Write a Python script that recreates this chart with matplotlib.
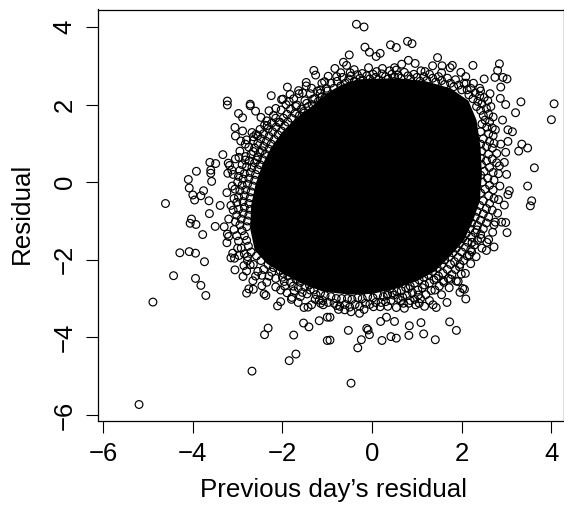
import matplotlib
matplotlib.use("Agg")
import matplotlib.pyplot as plt

plt.rcParams['font.family'] = ['Liberation Sans', 'DejaVu Sans']

# Individually readable outer points: (previous day's residual, residual)
upper_left = [(-4.61,-0.55),(-4.10,0.07),(-3.92,0.28),(-4.08,-0.15),(-4.00,-0.33),(-3.82,-0.35),(-3.96,-0.46),(-3.76,-0.22),(-3.64,-0.48),(-3.58,0.02),(-3.62,0.51),(-3.49,0.48),(-3.60,0.31),(-3.60,0.23),(-3.33,0.71),(-3.21,0.49),(-3.18,0.43),(-3.22,0.23),(-3.13,0.31),(-3.24,-0.27),(-3.39,-0.60),(-2.97,0.64),(-3.06,1.41),(-2.89,1.32),(-3.05,1.19),(-2.93,1.06),(-2.98,1.77),(-2.89,1.66),(-3.23,2.09),(-3.23,1.99),(-2.72,2.01),(-2.72,1.97),(-2.60,1.83),(-2.48,1.67),(-2.30,1.84),(-2.25,2.23),(-2.40,1.47),(-2.34,1.46),(-2.50,1.36),(-2.08,1.54),(-1.89,2.45),(-1.99,2.14),(-2.02,2.13),(-1.85,2.08),(-1.83,2.26),(-2.03,1.86),(-1.64,2.36),(-1.63,2.28),(-1.47,2.57),(-1.47,2.48),(-1.30,2.88),(-1.26,2.76),(-1.06,2.59),(-0.98,2.73),(-1.15,2.38),(-1.16,2.29),(-1.32,2.14),(-1.46,2.03),(-1.68,1.99),(-1.53,1.82),(-2.83,0.98),(-2.80,1.09),(-2.65,1.17),(-2.59,1.23),(-2.65,1.07),(-2.45,0.81),(-2.82,0.66),(-2.65,0.79),(-2.83,0.57),(-2.57,0.57)]
upper_right = [(-0.35,4.07),(-0.18,4.00),(-0.16,3.48),(-0.06,3.35),(0.18,3.32),(0.09,3.24),(-0.51,3.28),(0.41,3.54),(0.54,3.47),(0.79,3.63),(0.89,3.57),(1.46,3.21),(2.25,3.01),(2.84,3.05),(2.80,2.88),(2.74,2.70),(2.92,2.70),(3.01,2.66),(2.50,2.66),(2.87,2.45),(3.32,2.07),(4.06,2.02),(4.00,1.61),(3.20,1.79),(2.86,2.16),(2.98,2.00),(2.91,1.60),(3.13,1.30),(3.34,0.98),(3.47,0.88),(3.27,0.80),(3.62,0.37),(3.47,-0.10),(3.56,-0.48),(3.53,-0.61),(2.95,-0.59),(3.06,-0.22),(3.03,-0.32),(3.00,0.20),(2.95,0.51),(2.84,0.42),(2.98,0.77),(2.78,0.74),(2.87,0.98),(3.03,1.05),(3.03,1.35),(2.63,2.28),(-0.08,2.95),(0.23,2.93),(0.66,3.04),(0.81,3.14),(0.96,3.06),(1.35,3.00),(1.56,3.00),(1.79,3.01),(1.74,2.95),(-0.64,3.09),(-0.57,3.01),(-0.83,2.93),(-0.79,2.72),(-0.49,2.82),(-0.22,2.80),(0.54,2.89),(0.39,2.87),(1.09,2.87),(1.98,2.83),(2.09,2.72),(2.26,2.55),(2.40,2.42)]
lower_left = [(-5.20,-5.73),(-4.89,-3.09),(-4.43,-2.41),(-4.29,-1.82),(-4.08,-1.79),(-3.94,-1.83),(-3.74,-2.05),(-3.94,-2.48),(-3.82,-2.66),(-3.71,-2.92),(-4.03,-0.95),(-4.06,-1.06),(-3.93,-1.09),(-3.78,-1.35),(-3.63,-0.81),(-3.50,-1.14),(-3.30,-1.15),(-3.23,-1.34),(-3.20,-1.40),(-3.24,-1.56),(-3.11,-1.83),(-3.15,-1.95),(-3.07,-1.96),(-2.97,-1.89),(-3.06,-2.26),(-2.86,-2.15),(-2.88,-2.43),(-2.80,-2.29),(-2.72,-2.13),(-2.78,-1.92),(-2.66,-2.54),(-2.46,-2.67),(-2.46,-2.40),(-2.75,-2.75),(-2.65,-2.76),(-2.80,-2.86),(-2.41,-2.88),(-2.37,-2.92),(-2.04,-2.78),(-1.96,-2.56),(-2.11,-3.19),(-2.04,-3.08),(-1.80,-3.02),(-1.79,-2.97),(-1.65,-3.10),(-1.52,-3.23),(-1.43,-3.22),(-1.35,-3.16),(-1.75,-3.94),(-1.53,-3.63),(-1.41,-3.73),(-1.18,-3.57),(-1.00,-3.48),(-1.00,-4.08),(-2.32,-3.76),(-2.40,-3.93),(-1.70,-4.43),(-1.85,-4.60),(-2.68,-4.87),(-1.76,-2.68),(-1.56,-2.84),(-1.74,-2.80),(-1.09,-3.16),(-1.27,-3.02),(-1.18,-3.04),(-1.38,-2.78),(-2.24,-2.32),(-1.98,-2.35)]
lower_right = [(-0.47,-5.18),(-0.32,-4.27),(-0.24,-4.06),(-0.53,-3.82),(-0.06,-3.93),(-0.12,-3.77),(-0.09,-3.81),(0.22,-4.08),(0.42,-3.98),(0.54,-4.02),(0.82,-3.95),(1.15,-3.91),(1.41,-4.06),(0.83,-3.70),(1.09,-3.62),(0.19,-3.59),(0.32,-3.48),(0.50,-3.59),(1.73,-3.60),(1.88,-3.82),(0.54,-3.23),(-0.28,-3.38),(-0.47,-3.34),(-0.79,-3.18),(-0.61,-3.29),(2.09,-3.01),(1.67,-3.10),(1.43,-3.23),(1.36,-3.16),(1.17,-3.20),(0.97,-3.16),(1.32,-2.79),(1.96,-2.84),(2.02,-2.74),(2.06,-2.76),(1.92,-2.56),(1.99,-2.37),(1.95,-2.18),(2.72,-1.67),(2.55,-1.76),(2.56,-1.55),(2.69,-1.29),(3.01,-1.30),(2.98,-1.04),(2.89,-1.03),(2.75,-1.03),(2.17,-1.88),(2.22,-1.79),(2.23,-1.55),(2.43,-1.45),(2.34,-1.23),(1.75,-2.50),(1.59,-2.54),(1.43,-2.48),(0.64,-3.05),(0.34,-2.92),(0.48,-2.91),(0.03,-3.21),(0.18,-3.21),(0.85,-3.05),(0.81,-2.74),(1.03,-2.91),(1.17,-2.65),(-0.94,-4.07),(-0.94,-3.48)]

# Estimated points in the dense speckled band around the core
band_top = [(-1.0,2.35),(-0.92,2.55),(-0.85,2.42),(-0.78,2.6),(-0.70,2.48),(-0.66,2.7),(-0.6,2.55),(-0.52,2.66),(-0.47,2.74),(-0.4,2.6),(-0.33,2.77),(-0.27,2.68),(-0.2,2.62),(-0.12,2.74),(-0.05,2.66),(0.02,2.78),(0.08,2.7),(0.15,2.64),(0.22,2.79),(0.3,2.72),(0.36,2.66),(0.44,2.78),(0.5,2.7),(0.58,2.76),(0.64,2.68),(0.72,2.83),(0.8,2.74),(0.86,2.66),(0.93,2.78),(1.0,2.7),(1.07,2.6),(1.15,2.72),(1.22,2.62),(1.28,2.78),(1.35,2.68),(1.42,2.58),(1.48,2.72),(1.55,2.62),(1.62,2.52),(1.68,2.68),(1.75,2.55),(1.82,2.46),(1.86,2.64),(1.93,2.5),(2.0,2.38),(2.05,2.55),(2.12,2.38)]
band_upper_right = [(2.16,2.25),(2.2,2.42),(2.25,2.15),(2.3,2.3),(2.36,2.08),(2.4,2.22),(2.33,1.95),(2.45,2.02),(2.5,2.18),(2.42,1.85),(2.55,1.9),(2.48,1.72),(2.6,1.75),(2.52,1.6),(2.62,1.55),(2.45,1.5),(2.56,1.42),(2.68,1.4),(2.42,1.3),(2.6,1.25),(2.7,1.2),(2.48,1.12),(2.62,1.05),(2.42,0.98),(2.55,0.92),(2.68,0.88),(2.44,0.8),(2.6,0.72)]
band_right = [(2.42,0.62),(2.55,0.55),(2.68,0.6),(2.44,0.45),(2.62,0.38),(2.5,0.28),(2.7,0.25),(2.42,0.18),(2.58,0.1),(2.72,0.05),(2.46,0.0),(2.62,-0.08),(2.52,-0.18),(2.7,-0.2),(2.42,-0.28),(2.6,-0.35),(2.72,-0.42),(2.48,-0.48),(2.62,-0.55),(2.4,-0.6),(2.55,-0.68),(2.68,-0.72),(2.34,-0.75),(2.48,-0.82),(2.6,-0.9),(2.3,-0.9),(2.42,-0.98),(2.55,-1.05)]
band_lower_right = [(2.22,-1.05),(2.35,-1.12),(2.48,-1.2),(2.18,-1.2),(2.3,-1.3),(2.42,-1.35),(2.1,-1.32),(2.22,-1.42),(2.35,-1.5),(2.02,-1.45),(2.14,-1.55),(2.28,-1.62),(1.95,-1.58),(2.08,-1.68),(2.2,-1.74),(1.88,-1.7),(2.0,-1.8),(2.12,-1.9),(1.8,-1.82),(1.92,-1.94),(2.04,-2.02),(1.72,-1.92),(1.84,-2.05),(1.96,-2.12),(1.62,-2.0),(1.75,-2.12),(1.86,-2.25),(1.55,-2.12),(1.68,-2.25),(1.78,-2.38),(1.45,-2.2),(1.58,-2.35),(1.7,-2.48),(1.35,-2.3),(1.48,-2.42),(1.6,-2.58),(1.25,-2.38),(1.38,-2.52),(1.5,-2.68),(1.15,-2.45),(1.28,-2.6),(1.4,-2.78)]
band_bottom = [(1.05,-2.52),(1.12,-2.72),(1.2,-2.9),(0.95,-2.6),(1.02,-2.78),(1.08,-3.0),(0.85,-2.68),(0.9,-2.85),(0.95,-3.02),(0.75,-2.72),(0.78,-2.92),(0.82,-3.12),(0.65,-2.8),(0.68,-2.96),(0.7,-3.12),(0.55,-2.82),(0.58,-3.0),(0.45,-2.85),(0.42,-3.05),(0.35,-2.88),(0.3,-3.08),(0.25,-2.95),(0.2,-3.1),(0.12,-2.9),(0.08,-3.1),(0.02,-2.98),(-0.05,-3.15),(-0.1,-2.95),(-0.15,-3.12),(-0.22,-3.0),(-0.28,-3.2),(-0.32,-2.98),(-0.38,-3.15),(-0.45,-3.02),(-0.5,-3.22),(-0.55,-3.0),(-0.6,-3.15),(-0.68,-3.0),(-0.72,-3.2),(-0.8,-3.0),(-0.85,-3.12),(-0.92,-2.95),(-0.98,-3.1),(-1.05,-2.92),(-1.1,-3.05),(-1.15,-2.85)]
band_lower_left = [(-1.25,-2.9),(-1.3,-2.78),(-1.4,-2.65),(-1.45,-2.88),(-1.5,-2.7),(-1.6,-2.58),(-1.65,-2.72),(-1.7,-2.5),(-1.82,-2.58),(-1.88,-2.42),(-1.95,-2.68),(-2.0,-2.45),(-2.05,-2.28),(-2.15,-2.48),(-2.2,-2.2),(-2.3,-2.42),(-2.32,-2.12),(-2.42,-2.25),(-2.48,-2.02),(-2.55,-2.3),(-2.58,-1.9),(-2.65,-2.12),(-2.7,-1.8),(-2.78,-2.02),(-2.76,-1.65),(-2.85,-1.85),(-2.8,-1.5),(-2.92,-1.7),(-2.85,-1.38),(-2.98,-1.52),(-2.9,-1.25),(-3.02,-1.38),(-2.8,-1.15),(-2.95,-1.1),(-3.08,-1.22)]
band_left = [(-2.78,-1.0),(-2.92,-0.95),(-3.05,-1.02),(-2.75,-0.85),(-2.88,-0.8),(-3.02,-0.85),(-2.72,-0.7),(-2.85,-0.65),(-2.98,-0.7),(-3.1,-0.72),(-2.75,-0.55),(-2.88,-0.5),(-3.02,-0.52),(-2.72,-0.4),(-2.85,-0.35),(-2.98,-0.38),(-3.08,-0.42),(-2.7,-0.25),(-2.82,-0.2),(-2.95,-0.22),(-3.06,-0.18),(-2.66,-0.1),(-2.78,-0.05),(-2.9,-0.08),(-3.0,0.0),(-2.62,0.05),(-2.75,0.1),(-2.88,0.08),(-2.98,0.15),(-2.6,0.2),(-2.72,0.25),(-2.85,0.22),(-2.95,0.3),(-2.55,0.32),(-2.68,0.38),(-2.8,0.4),(-2.9,0.45)]
band_upper_left = [(-2.5,0.45),(-2.62,0.5),(-2.74,0.55),(-2.44,0.58),(-2.55,0.65),(-2.7,0.72),(-2.38,0.72),(-2.5,0.78),(-2.62,0.88),(-2.3,0.85),(-2.42,0.92),(-2.55,1.0),(-2.25,0.98),(-2.36,1.05),(-2.48,1.12),(-2.18,1.1),(-2.3,1.18),(-2.42,1.25),(-2.1,1.22),(-2.22,1.3),(-2.32,1.38),(-2.02,1.32),(-2.14,1.42),(-2.24,1.52),(-1.95,1.45),(-2.06,1.55),(-2.15,1.65),(-1.88,1.55),(-1.98,1.65),(-1.9,1.75),(-1.8,1.65),(-1.72,1.78),(-1.82,1.88),(-1.62,1.72),(-1.58,1.88),(-1.7,1.95),(-1.52,1.78),(-1.42,1.95),(-1.5,2.1),(-1.34,2.0),(-1.28,2.15),(-1.38,2.28),(-1.2,2.08),(-1.12,2.2),(-1.22,2.35),(-1.05,2.18),(-1.02,2.42)]
band_outer = [(-2.2,1.72),(-2.35,1.58),(-2.55,1.2),(-2.75,0.9),(-2.68,1.28),(-2.95,0.8),(-3.05,0.6),(-3.1,0.2),(-3.12,-0.1),(-3.15,-0.6),(-3.2,-0.95),(-3.0,-1.7),(-2.6,-2.42),(-2.35,-2.58),(-2.15,-2.7),(-1.9,-2.85),(-1.6,-2.95),(-1.15,-3.12),(-0.75,-3.28),(-0.18,-3.28),(0.35,-3.2),(0.72,-3.25),(1.05,-3.12),(1.28,-3.05),(1.55,-2.9),(1.72,-2.72),(1.88,-2.55),(2.08,-2.35),(2.2,-2.1),(2.32,-1.92),(2.45,-1.7),(2.6,-1.48),(2.72,-1.1),(2.8,-0.8),(2.82,-0.45),(2.85,-0.1),(2.82,0.22),(2.78,0.5),(2.72,1.0),(2.75,1.35),(2.7,1.68),(2.65,1.95),(2.58,2.1),(2.42,2.35),(2.1,2.55),(1.55,2.82),(1.18,2.85),(0.5,2.95),(0.1,2.85),(-0.4,2.9),(-0.7,2.82),(-1.12,2.55),(-1.35,2.42),(-1.55,2.3),(-1.75,2.15),(-1.92,2.0),(-2.15,1.9)]

# Outline of the saturated core, where overlapping circles merge to solid black
core_x = [-0.33,0.56,1.2,1.75,2.15,2.33,2.42,2.45,2.4,2.25,2.05,1.75,1.4,1.0,0.5,0.0,-0.5,-1.1,-1.6,-2.0,-2.35,-2.62,-2.72,-2.7,-2.6,-2.45,-2.25,-2.0,-1.7,-1.35,-1.0,-0.7]
core_y = [2.65,2.68,2.6,2.42,2.1,1.6,0.9,0.2,-0.5,-1.0,-1.5,-1.9,-2.3,-2.55,-2.75,-2.88,-2.9,-2.82,-2.6,-2.35,-2.1,-1.75,-1.2,-0.6,-0.05,0.45,0.9,1.3,1.65,1.95,2.3,2.5]

x_ticks = [-6,-4,-2,0,2,4]
y_ticks = [-6,-4,-2,0,2,4]
x_label = "Previous day\u2019s residual"
y_label = "Residual"

W, H = 564, 508
fig = plt.figure(figsize=(W/100, H/100), dpi=100)
ax = fig.add_axes([97.8/W, 1-421/H, (563.5-97.8)/W, (421-9.5)/H])
ax.fill(core_x, core_y, color='black', lw=0)
pts = (upper_left + upper_right + lower_left + lower_right + band_top + band_upper_right
       + band_right + band_lower_right + band_bottom + band_lower_left + band_left + band_upper_left + band_outer)
ax.scatter([p[0] for p in pts], [p[1] for p in pts], s=31, facecolors='none', edgecolors='black', linewidths=0.85)
ax.set_xlim(-6.12, 4.27)
ax.set_ylim(-6.155, 4.45)
ax.set_xticks(x_ticks)
ax.set_yticks(y_ticks)
ax.set_xticklabels([str(t).replace('-', '\u2212') for t in x_ticks])
ax.set_yticklabels([str(t).replace('-', '\u2212') for t in y_ticks], rotation=90, va='center')
ax.tick_params(length=8.3, width=0.8, labelsize=18.5, pad=7)
for s in ax.spines.values():
    s.set_linewidth(0.9)
fig.text(334/W, 1-490/H, x_label, fontsize=18.7, ha='center', va='center')
fig.text(22/W, 1-213/H, y_label, fontsize=18.7, ha='center', va='center', rotation=90)
fig.savefig('out.png', dpi=100)
